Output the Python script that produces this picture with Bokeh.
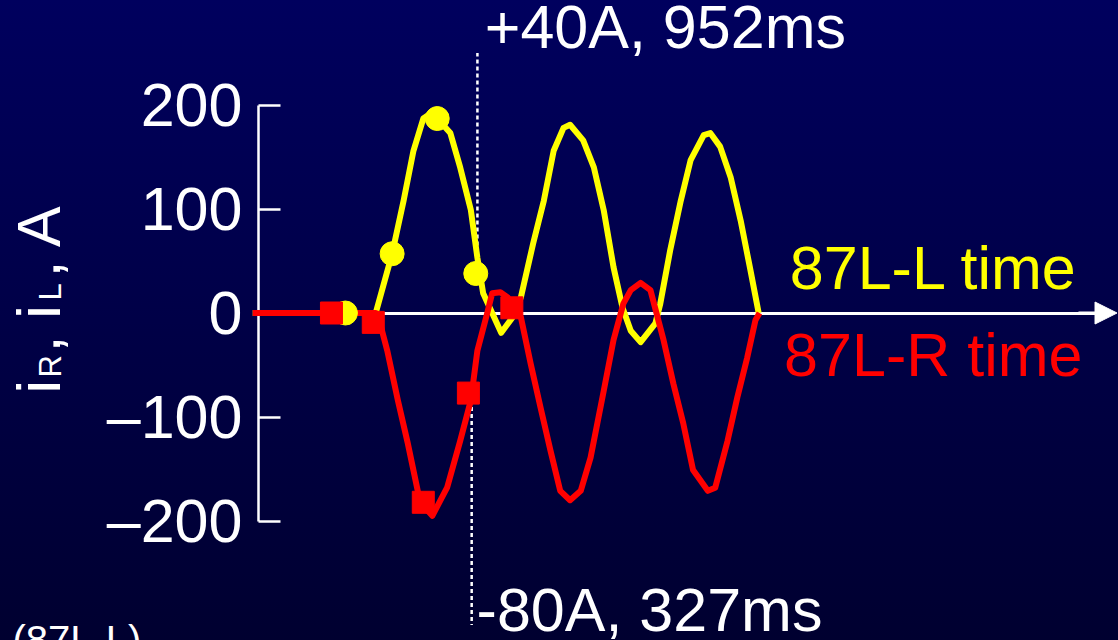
from bokeh.plotting import figure
from bokeh.models import Range1d, LinearAxis, FixedTicker, Label, Arrow, NormalHead
from bokeh.embed import file_html
from bokeh.resources import INLINE
from bokeh.core.templates import get_env

# ---- data (time in ms, current in A) ----
t_L = [-0.7, 14.3, 16.3, 17.7, 18.9, 20.1, 21.0, 21.8, 23.4, 24.6, 25.9, 26.7, 27.4, 28.5,
       29.6, 31.0, 32.0, 33.5, 34.8, 36.0, 37.2, 38.0, 39.6, 40.9, 42.1, 43.3, 44.4, 45.4,
       46.6, 48.4, 49.0, 50.2, 51.5, 52.7, 54.3, 55.1, 56.3, 57.6, 58.8, 60.0, 61.0]
i_L = [0, 0, 57, 108, 156, 187, 192, 187, 173, 140, 99, 53, 19, 0,
       -19, -4, 15, 67, 108, 156, 178, 181, 166, 140, 99, 44, 5, -17,
       -28, -10, 9, 60, 108, 147, 171, 173, 160, 130, 89, 41, 0]

t_R = [-0.7, 14.3, 14.9, 15.7, 17.0, 18.2, 19.5, 20.4, 21.2, 23.0, 24.6, 25.9, 26.7, 27.9,
       28.5, 29.5, 30.4, 31.3, 32.0, 33.2, 34.4, 35.6, 36.8, 38.0, 39.3, 40.5, 42.1, 43.3,
       44.5, 45.4, 46.6, 47.8, 49.4, 50.6, 51.8, 53.0, 54.8, 55.7, 57.2, 58.4, 59.6, 60.6, 61.1]
i_R = [0, 0, -12, -36, -84, -125, -174, -188, -195, -168, -123, -84, -36, 0,
       19, 20, 15, 0, -4, -49, -91, -132, -171, -180, -171, -139, -75, -26,
       9, 22, 29, 22, -26, -68, -106, -151, -171, -168, -123, -81, -43, -7, 0]

# relay samples
tL_samples = [10.6, 16.3, 21.8, 26.5]
iL_samples = [0, 57, 187, 38]
tR_samples = [8.9, 14.0, 20.1, 25.6, 30.9]
iR_samples = [0, -9, -182, -77, 5]

y_ticks = [-200, -100, 0, 100, 200]
y_tick_labels = ["\u2013200", "\u2013100", "0", "100", "200"]

mark_t = [26.7, 26.0]
mark_i = [38, -77]
mark_text = ["+40A, 952ms", "-80A, 327ms"]

series_names = ["87L-L time", "87L-R time"]
footer_text = "(87L-L)"

FONT = "Liberation Sans"
YEL = "#ffff00"
RED = "#ff0000"

p = figure(width=1118, height=640,
           x_range=Range1d(-31.46, 104.88), y_range=Range1d(-314.9, 300.5),
           x_axis_type=None, y_axis_type=None,
           toolbar_location=None, output_backend="svg",
           min_border=0, background_fill_alpha=0, border_fill_alpha=0,
           outline_line_color=None)
p.title.visible = False

# axes
yaxis = LinearAxis(fixed_location=0, ticker=FixedTicker(ticks=y_ticks), bounds=(-200, 200),
                   major_label_overrides={k: v for k, v in zip(y_ticks, y_tick_labels)},
                   axis_line_color="white", axis_line_width=2.5,
                   major_tick_line_color="white", major_tick_line_width=2.5,
                   major_tick_in=22, major_tick_out=0, minor_tick_line_color=None,
                   major_label_standoff=16, major_label_text_color="white",
                   major_label_text_font=FONT, major_label_text_font_size="61px",
                   level="underlay")
p.add_layout(yaxis, "left")

xaxis = LinearAxis(fixed_location=0, ticker=FixedTicker(ticks=[]), bounds=(0, 104),
                   axis_line_color="white", axis_line_width=3,
                   major_tick_line_color=None, minor_tick_line_color=None,
                   major_label_text_alpha=0, level="underlay")
p.add_layout(xaxis, "below")
p.add_layout(Arrow(end=NormalHead(size=22, fill_color="white", line_color="white"),
                   x_start=100, y_start=0, x_end=104.7, y_end=0,
                   line_color="white", line_width=3))

# dotted marker lines
p.segment(x0=mark_t, y0=mark_i, x1=mark_t, y1=[250, -300],
          line_color="white", line_width=2.5, line_dash="4 3")

# traces
p.line(t_L, i_L, line_color=YEL, line_width=6, line_join="round")
p.line(t_R, i_R, line_color=RED, line_width=6, line_join="round")
p.scatter(tL_samples, iL_samples, marker="circle", size=24, fill_color=YEL, line_color=YEL)
p.scatter(tR_samples, iR_samples, marker="square", size=22, fill_color=RED, line_color=RED)

def lab(x, y, text, color="white", size="61px", angle=0):
    p.add_layout(Label(x=x, y=y, text=text, text_color=color, text_font=FONT,
                       text_font_size=size, text_baseline="alphabetic", text_align="left",
                       angle=angle, angle_units="deg"))

lab(mark_t[0] + 0.9, 275.4, mark_text[0])
lab(mark_t[1] + 0.6, -286, mark_text[1])
lab(64.8, 43.7, series_names[0], YEL)
lab(64.1, -40.0, series_names[1], RED)
lab(-30.0, -314.6, footer_text, size="40px")

# rotated y label: i_R, i_L, A
lab(-26.8, -77.4, "i", angle=90)
lab(-25.4, -62.0, "R", size="31px", angle=90)
lab(-26.8, -38.0, ", i", angle=90)
lab(-25.4, 12.0, "L", size="31px", angle=90)
lab(-26.8, 34.1, ", A", angle=90)

tmpl = get_env().from_string(
    '{% extends "file.html" %}{% block preamble %}<style>html, body {margin:0 !important; padding:0; '
    'overflow:hidden; background: linear-gradient(to bottom, #00005e 0%, #000030 100%) !important;}'
    '</style>{% endblock %}')

open("out.html", "w").write(file_html(p, INLINE, template=tmpl))
